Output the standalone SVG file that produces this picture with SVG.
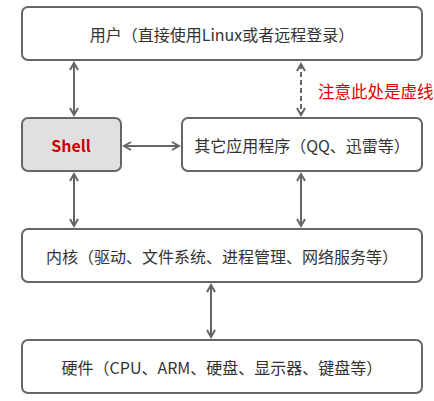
<svg xmlns="http://www.w3.org/2000/svg" width="434" height="401" viewBox="0 0 434 401">
<style>
.box{fill:#fff;stroke:#666;stroke-width:2}
.shell{fill:#e0e0e0;stroke:#666;stroke-width:2}
.t{font-family:"Noto Sans CJK SC","Noto Sans",sans-serif;font-size:16px;fill:#333;text-anchor:middle;dominant-baseline:central}
.conn line{stroke:#666;stroke-width:2;fill:none}
.dash{stroke-dasharray:5,3}
</style>
<defs>
<marker id="a" viewBox="0 0 10 10" refX="8" refY="5" markerWidth="10" markerHeight="10" markerUnits="userSpaceOnUse" orient="auto-start-reverse">
<path d="M1,1 L8,5 L1,9" fill="none" stroke="#666" stroke-width="2"/>
</marker>
</defs>
<rect width="434" height="401" fill="#fff"/>
<g id="user"><rect class="box" x="22" y="7" width="400" height="53" rx="6"/><text class="t" x="222" y="34">用户（直接使用Linux或者远程登录）</text></g>
<g id="shell"><rect class="shell" x="22" y="118" width="99" height="53" rx="6"/><text class="t" x="71" y="145" style="font-weight:bold;fill:#cc0000;font-size:16px">Shell</text></g>
<g id="apps"><rect class="box" x="182" y="118" width="240" height="53" rx="6"/><text class="t" x="302" y="145">其它应用程序（QQ、迅雷等）</text></g>
<g id="kernel"><rect class="box" x="22" y="229" width="400" height="53" rx="6"/><text class="t" x="222" y="256">内核（驱动、文件系统、进程管理、网络服务等）</text></g>
<g id="hardware"><rect class="box" x="22" y="340" width="400" height="53" rx="6"/><text class="t" x="222" y="367">硬件（CPU、ARM、硬盘、显示器、键盘等）</text></g>
<g id="note"><text x="318" y="91" style="font-family:'Noto Sans CJK SC',sans-serif;font-size:16.5px;fill:#dd0000;dominant-baseline:central">注意此处是虚线</text></g>
<g class="conn">
<line x1="74" y1="63" x2="74" y2="115" marker-start="url(#a)" marker-end="url(#a)"/>
<line class="dash" x1="301" y1="64" x2="301" y2="115" marker-start="url(#a)" marker-end="url(#a)"/>
<line x1="124" y1="146" x2="179" y2="146" marker-start="url(#a)" marker-end="url(#a)"/>
<line x1="74" y1="174" x2="74" y2="226" marker-start="url(#a)" marker-end="url(#a)"/>
<line x1="301" y1="174" x2="301" y2="226" marker-start="url(#a)" marker-end="url(#a)"/>
<line x1="211" y1="285" x2="211" y2="337" marker-start="url(#a)" marker-end="url(#a)"/>
</g>
</svg>
